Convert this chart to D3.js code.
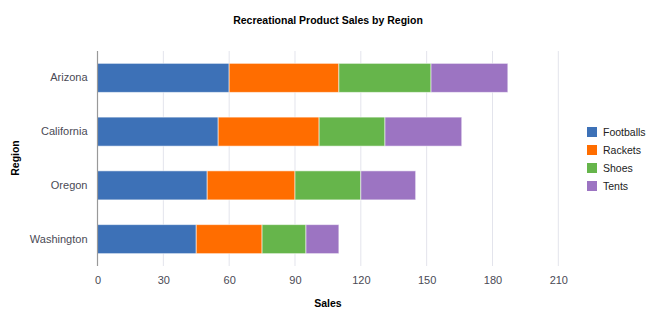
<!DOCTYPE html>
<html>
<head>
<meta charset="utf-8">
<script src="https://cdn.jsdelivr.net/npm/d3@7"></script>
<style>
  body { margin: 0; background: #fff; }
  text { font-family: "Liberation Sans", Arial, sans-serif; }
</style>
</head>
<body>
<svg id="chart" width="660" height="323"></svg>
<script>
const regions = ["Arizona", "California", "Oregon", "Washington"];
const products = ["Footballs", "Rackets", "Shoes", "Tents"];
const footballs = [60, 55, 50, 45];
const rackets = [50, 46, 40, 30];
const shoes = [42, 30, 30, 20];
const tents = [35, 35, 25, 15];
const xTicks = [0, 30, 60, 90, 120, 150, 180, 210];
const colors = ["#3d71b7", "#ff6d00", "#66b54b", "#9c74c2"];

const seriesValues = [footballs, rackets, shoes, tents];
const rows = regions.map((r, i) => {
  const o = { region: r };
  products.forEach((p, j) => { o[p] = seriesValues[j][i]; });
  return o;
});
const stacked = d3.stack().keys(products)(rows);

const svg = d3.select("#chart");
const plotLeft = 97.5, plotTop = 51, plotBottom = 266;
const x = d3.scaleLinear().domain([0, 210]).range([plotLeft, 558.3]);
const y = d3.scaleBand().domain(regions).range([plotTop, plotBottom]).paddingInner(0.46).paddingOuter(0.23);
const color = d3.scaleOrdinal().domain(products).range(colors);

// gridlines
svg.append("g").selectAll("line").data(xTicks.slice(1)).join("line")
  .attr("x1", d => x(d)).attr("x2", d => x(d))
  .attr("y1", plotTop).attr("y2", plotBottom)
  .attr("stroke", "#e3e4ec").attr("stroke-width", 1);

// bars
svg.append("g").selectAll("g").data(stacked).join("g")
  .attr("fill", d => color(d.key))
  .selectAll("rect").data(d => d).join("rect")
  .attr("x", d => x(d[0]))
  .attr("width", d => x(d[1]) - x(d[0]))
  .attr("y", d => y(d.data.region))
  .attr("height", y.bandwidth())
  .attr("stroke", "#ffffff").attr("stroke-opacity", 0.55).attr("stroke-width", 1);

// y axis line
svg.append("line").attr("x1", plotLeft).attr("x2", plotLeft).attr("y1", plotTop).attr("y2", plotBottom)
  .attr("stroke", "#999").attr("stroke-width", 1.2);

// x axis
const xAxis = svg.append("g").attr("transform", `translate(0,${plotBottom})`)
  .call(d3.axisBottom(x).tickValues(xTicks).tickSize(0).tickPadding(10));
xAxis.select(".domain").remove();
xAxis.selectAll("text").attr("fill", "#4a4a55").attr("font-size", 11)
  .style("font-family", '"Liberation Sans", Arial, sans-serif');

// y axis labels
const yAxis = svg.append("g").attr("transform", `translate(${plotLeft},0)`)
  .call(d3.axisLeft(y).tickSize(0).tickPadding(10));
yAxis.select(".domain").remove();
yAxis.selectAll("text").attr("fill", "#4a4a55").attr("font-size", 11)
  .style("font-family", '"Liberation Sans", Arial, sans-serif');

// title
svg.append("text").attr("x", 328).attr("y", 24).attr("text-anchor", "middle")
  .attr("font-size", 10.5).attr("font-weight", "bold").attr("fill", "#000")
  .text("Recreational Product Sales by Region");

// axis titles
svg.append("text").attr("x", 328).attr("y", 307).attr("text-anchor", "middle")
  .attr("font-size", 10.5).attr("font-weight", "bold").attr("fill", "#000")
  .text("Sales");
svg.append("text").attr("transform", "translate(19,158) rotate(-90)").attr("text-anchor", "middle")
  .attr("font-size", 10.5).attr("font-weight", "bold").attr("fill", "#000")
  .text("Region");

// legend
const legend = svg.append("g").attr("transform", "translate(587,127)");
const li = legend.selectAll("g").data(products).join("g")
  .attr("transform", (d, i) => `translate(0,${i * 18})`);
li.append("rect").attr("width", 10).attr("height", 10).attr("fill", d => color(d));
li.append("text").attr("x", 16).attr("y", 9).attr("font-size", 10.5).attr("fill", "#222").text(d => d);
</script>
</body>
</html>
